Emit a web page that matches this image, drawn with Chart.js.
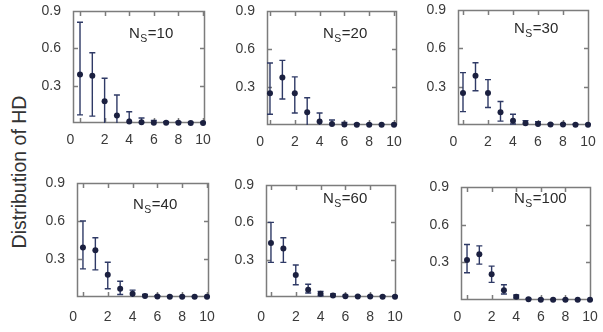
<!DOCTYPE html>
<html>
<head>
<meta charset="utf-8">
<script src="https://cdn.jsdelivr.net/npm/chart.js@4.4.1/dist/chart.umd.min.js"></script>
<style>
  html, body { margin: 0; padding: 0; background: #fff; }
  #wrap { position: relative; width: 603px; height: 332px; overflow: hidden; }
  #wrap canvas { position: absolute; }
  #ylab {
    position: absolute; left: 19.5px; top: 171.5px;
    transform: translate(-50%, -50%) rotate(-90deg);
    font: 19.5px "Liberation Sans", Arial, sans-serif; line-height: 1;
    color: #333; white-space: nowrap;
  }
</style>
</head>
<body>
<div id="wrap"><div id="ylab">Distribution of HD</div></div>
<script>
// Hamming distance (x) and axis ticks
const hd = [0, 1, 2, 3, 4, 5, 6, 7, 8, 9, 10];
const xTicks = [0, 2, 4, 6, 8, 10];
const yTicks = [0.3, 0.6, 0.9];

// N_S = 10
const meanNs10 = [0.39, 0.38, 0.175, 0.06, 0.012, 0.006, 0.003, 0.002, 0.002, 0.001, 0.001];
const upperNs10 = [0.81, 0.565, 0.36, 0.225, 0.09, 0.04, 0.02, 0.01, 0.008, 0.005, 0.005];
const lowerNs10 = [0.065, 0.055, 0, 0, 0, 0, 0, 0, 0, 0, 0];

// N_S = 20
const meanNs20 = [0.25, 0.375, 0.25, 0.10, 0.027, 0.008, 0.004, 0.002, 0.002, 0.001, 0.001];
const upperNs20 = [0.49, 0.51, 0.38, 0.215, 0.095, 0.04, 0.02, 0.01, 0.008, 0.005, 0.005];
const lowerNs20 = [0.085, 0.205, 0.095, 0, 0, 0, 0, 0, 0, 0, 0];

// N_S = 30
const meanNs30 = [0.25, 0.385, 0.25, 0.10, 0.034, 0.013, 0.008, 0.003, 0.003, 0.002, 0.002];
const upperNs30 = [0.41, 0.487, 0.355, 0.184, 0.084, 0.034, 0.026, 0.01, 0.01, 0.006, 0.006];
const lowerNs30 = [0.105, 0.268, 0.137, 0.03, 0.008, 0, 0, 0, 0, 0, 0];

// N_S = 40
const meanNs40 = [0.39, 0.37, 0.176, 0.065, 0.026, 0.008, 0.003, 0.002, 0.002, 0.001, 0.001];
const upperNs40 = [0.6, 0.468, 0.274, 0.124, 0.054, 0.02, 0.01, 0.006, 0.005, 0.004, 0.004];
const lowerNs40 = [0.222, 0.214, 0.065, 0.02, 0, 0, 0, 0, 0, 0, 0];

// N_S = 60
const meanNs60 = [0.434, 0.389, 0.177, 0.058, 0.026, 0.013, 0.006, 0.004, 0.004, 0.003, 0.003];
const upperNs60 = [0.6, 0.476, 0.257, 0.103, 0.045, 0.025, 0.015, 0.01, 0.01, 0.008, 0.008];
const lowerNs60 = [0.278, 0.278, 0.098, 0.032, 0.01, 0, 0, 0, 0, 0, 0];

// N_S = 100
const meanNs100 = [0.318, 0.365, 0.206, 0.077, 0.026, 0.005, 0.002, 0.002, 0.001, 0.001, 0.001];
const upperNs100 = [0.442, 0.431, 0.27, 0.122, 0.04, 0.012, 0.006, 0.005, 0.004, 0.003, 0.003];
const lowerNs100 = [0.217, 0.286, 0.14, 0.048, 0.015, 0, 0, 0, 0, 0, 0];

const FONT = '"Liberation Sans", Arial, sans-serif';
const POINT = '#1b2040';
const BAR = '#2f3a66';
const FRAME = '#7c7c7c';
const TEXT = '#3a3a3a';

// box = plot area [left, top, right, bottom] in page px, tag = N_S label offset
const panels = [
  { ns: '10', mean: meanNs10, upper: upperNs10, lower: lowerNs10, box: [73, 11, 205, 123], xMin: -0.57, xMax: 10.16, tag: [56, 27], pad: 9 },
  { ns: '20', mean: meanNs20, upper: upperNs20, lower: lowerNs20, box: [267, 11, 397, 125], xMin: -0.24, xMax: 10.24, tag: [56, 27], pad: 9 },
  { ns: '30', mean: meanNs30, upper: upperNs30, lower: lowerNs30, box: [458, 10, 589, 125], xMin: -0.4, xMax: 10.08, tag: [56, 23], pad: 9 },
  { ns: '40', mean: meanNs40, upper: upperNs40, lower: lowerNs40, box: [77, 183, 209, 297], xMin: -0.48, xMax: 10.16, tag: [56, 26], pad: 12 },
  { ns: '60', mean: meanNs60, upper: upperNs60, lower: lowerNs60, box: [266, 185, 396, 297], xMin: -0.4, xMax: 10.08, tag: [57, 18], pad: 12 },
  { ns: '100', mean: meanNs100, upper: upperNs100, lower: lowerNs100, box: [461, 187, 591, 300], xMin: -0.49, xMax: 10.08, tag: [53, 16], pad: 9 },
];

const AXIS_W = 60;
const AXIS_H = 34;
const PAD = 12;

function strokeFrame(chart) {
  const { ctx, chartArea: a, scales: { x, y } } = chart;
  ctx.save();
  // slide the frame under the points and bars already drawn
  ctx.globalCompositeOperation = 'destination-over';
  ctx.strokeStyle = FRAME;
  ctx.lineWidth = 1.5;
  ctx.beginPath();
  ctx.rect(a.left + 0.5, a.top + 0.5, a.width - 1, a.height - 1);
  xTicks.forEach((v) => {
    const px = Math.round(x.getPixelForValue(v)) + 0.5;
    ctx.moveTo(px, a.top); ctx.lineTo(px, a.top + 5);
    ctx.moveTo(px, a.bottom); ctx.lineTo(px, a.bottom - 5);
  });
  yTicks.forEach((v) => {
    const py = Math.round(y.getPixelForValue(v)) + 0.5;
    ctx.moveTo(a.left, py); ctx.lineTo(a.left + 5, py);
    ctx.moveTo(a.right, py); ctx.lineTo(a.right - 5, py);
  });
  ctx.stroke();
  ctx.restore();
}

// error bars, frame with inward tick marks, N_S label
const framePlugin = {
  id: 'hdframe',
  beforeDatasetsDraw(chart) {
    const { ctx, scales: { x, y } } = chart;
    const p = panels[chart.options.plugins.hdframe.index];
    ctx.save();
    ctx.strokeStyle = BAR;
    ctx.lineWidth = 1.4;
    ctx.beginPath();
    hd.forEach((h, i) => {
      const px = x.getPixelForValue(h);
      const top = y.getPixelForValue(p.upper[i]);
      const bot = y.getPixelForValue(p.lower[i]);
      ctx.moveTo(px, top); ctx.lineTo(px, bot);
      ctx.moveTo(px - 3, top); ctx.lineTo(px + 3, top);
      if (p.lower[i] > 0) { ctx.moveTo(px - 3, bot); ctx.lineTo(px + 3, bot); }
    });
    ctx.stroke();
    ctx.restore();
  },
  afterDatasetsDraw(chart) {
    strokeFrame(chart);
  },
  afterDraw(chart) {
    const { ctx, chartArea: a } = chart;
    const p = panels[chart.options.plugins.hdframe.index];
    const x0 = a.left + p.tag[0];
    const y0 = a.top + p.tag[1];
    ctx.save();
    ctx.fillStyle = '#2a2a2a';
    ctx.textAlign = 'left';
    ctx.textBaseline = 'alphabetic';
    ctx.font = `15px ${FONT}`;
    ctx.fillText('N', x0, y0);
    let w = ctx.measureText('N').width;
    ctx.font = `10.5px ${FONT}`;
    ctx.fillText('S', x0 + w + 0.5, y0 + 4);
    w += ctx.measureText('S').width + 1;
    ctx.font = `15px ${FONT}`;
    ctx.fillText(`=${p.ns}`, x0 + w, y0);
    ctx.restore();
  },
};

const wrap = document.getElementById('wrap');

panels.forEach((p, index) => {
  const [l, t, r, b] = p.box;
  const canvas = document.createElement('canvas');
  const w = (r - l) + AXIS_W + PAD;
  const h = (b - t) + PAD + AXIS_H;
  canvas.width = w;
  canvas.height = h;
  canvas.style.width = `${w}px`;
  canvas.style.height = `${h}px`;
  canvas.style.left = `${l - AXIS_W}px`;
  canvas.style.top = `${t - PAD}px`;
  wrap.appendChild(canvas);

  // eslint-disable-next-line no-new, no-undef
  new Chart(canvas, {
    type: 'scatter',
    data: {
      datasets: [{
        data: hd.map((v, i) => ({ x: v, y: p.mean[i] })),
        backgroundColor: POINT,
        borderColor: POINT,
        pointRadius: 3,
        borderWidth: 0,
        clip: false,
      }],
    },
    options: {
      responsive: false,
      animation: false,
      devicePixelRatio: 1,
      layout: { padding: { top: PAD, right: PAD, left: 0, bottom: 0 } },
      plugins: {
        legend: { display: false },
        tooltip: { enabled: false },
        hdframe: { index },
      },
      scales: {
        x: {
          type: 'linear',
          min: p.xMin,
          max: p.xMax,
          grid: { display: false, drawTicks: false },
          border: { display: false },
          afterBuildTicks: (s) => { s.ticks = xTicks.map((v) => ({ value: v })); },
          afterFit: (s) => {
            s.height = AXIS_H;
            s.paddingLeft = 0;
            s.paddingRight = 0;
          },
          ticks: {
            autoSkip: false,
            maxRotation: 0,
            padding: p.pad,
            color: TEXT,
            font: { family: FONT, size: 14 },
            // the zero label sits a little left of its tick in the original
            callback: (v) => (v === 0 ? '0     ' : String(v)),
          },
        },
        y: {
          type: 'linear',
          min: 0,
          max: 0.9,
          grid: { display: false, drawTicks: false },
          border: { display: false },
          afterBuildTicks: (s) => { s.ticks = yTicks.map((v) => ({ value: v })); },
          afterFit: (s) => {
            s.width = AXIS_W;
            s.paddingTop = 0;
            s.paddingBottom = 0;
          },
          ticks: {
            padding: 12,
            color: TEXT,
            font: { family: FONT, size: 14 },
            callback: (v) => v.toFixed(1),
          },
        },
      },
    },
    plugins: [framePlugin],
  });
});
</script>
</body>
</html>
